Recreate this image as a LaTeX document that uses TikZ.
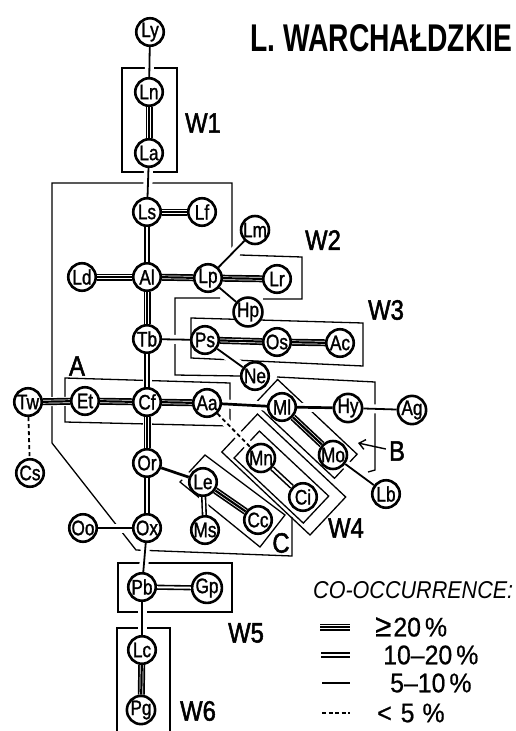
\documentclass[tikz,border=0pt]{standalone}
\usepackage{fontspec}
\setmainfont{Liberation Sans}
\newfontfamily\lab{Liberation Sans}[FakeStretch=0.82,FakeBold=1.2]
\newfontfamily\wlab{Liberation Sans}[FakeStretch=0.85,FakeBold=1.8]
\newfontfamily\legf{Liberation Sans}[FakeStretch=0.92,FakeBold=0.6]
\usetikzlibrary{arrows.meta}
\pgfdeclarelayer{boxes}
\pgfdeclarelayer{halo}
\pgfsetlayers{boxes,halo,main}
\tikzset{
 nd/.style={circle,draw,line width=2.6pt,fill=white,minimum size=27.5pt,inner sep=0pt,font=\lab\fontsize{21}{21}\selectfont},
 bx/.style={line width=1.3pt,line join=miter},
 eone/.style={line width=1.8pt},
 eheavy/.style={line width=2.7pt},
 etwo/.style={double,double distance=2pt,line width=1.6pt},
 ethree/.style={line width=7pt,postaction={draw=white,line width=3.6pt},postaction={draw=black,line width=2.2pt}},
 edash/.style={line width=1.8pt,dash pattern=on 4pt off 3pt},
 halo/.style={draw=white,line width=9pt},
 wl/.style={font=\wlab\fontsize{28}{28}\selectfont,inner sep=0pt},
 legt/.style={font=\legf\fontsize{27}{27}\selectfont,inner sep=0pt,anchor=west},
}
\begin{document}
\begin{tikzpicture}[x=1pt,y=-1pt]
\useasboundingbox (0,0) rectangle (516,731);
% nodes
\node[nd] (Ly) at (150,32) {Ly};
\node[nd] (Ln) at (149,92) {Ln};
\node[nd] (La) at (149,153) {La};
\node[nd] (Ls) at (147,212) {Ls};
\node[nd] (Lf) at (202,212) {Lf};
\node[nd] (Lm) at (255,230) {Lm};
\node[nd] (Ld) at (82,277) {Ld};
\node[nd] (Al) at (147,277) {Al};
\node[nd] (Lp) at (208,278) {Lp};
\node[nd] (Lr) at (277,279) {Lr};
\node[nd] (Hp) at (248,312) {Hp};
\node[nd] (Tb) at (147,339) {Tb};
\node[nd] (Ps) at (205,340) {Ps};
\node[nd] (Os) at (277,342) {Os};
\node[nd] (Ac) at (340,343) {Ac};
\node[nd] (Ne) at (255,376) {Ne};
\node[nd] (Tw) at (28,402) {Tw};
\node[nd] (Et) at (85,401) {Et};
\node[nd] (Cf) at (147,402) {Cf};
\node[nd] (Aa) at (207,403) {Aa};
\node[nd] (Ml) at (282,407) {Ml};
\node[nd] (Hy) at (348,408) {Hy};
\node[nd] (Ag) at (412,410) {Ag};
\node[nd] (Mo) at (333,455) {Mo};
\node[nd] (Mn) at (261,458) {Mn};
\node[nd] (Ci) at (303,497) {Ci};
\node[nd] (Lb) at (386,494) {Lb};
\node[nd] (Cs) at (30,473) {Cs};
\node[nd] (Or) at (147,463) {Or};
\node[nd] (Le) at (203,482) {Le};
\node[nd] (Ms) at (205,530) {Ms};
\node[nd] (Cc) at (258,520) {Cc};
\node[nd] (Oo) at (83,528) {Oo};
\node[nd] (Ox) at (147,528) {Ox};
\node[nd] (Pb) at (142,587) {Pb};
\node[nd] (Gp) at (207,588) {Gp};
\node[nd] (Lc) at (142,650) {Lc};
\node[nd] (Pg) at (141,710) {Pg};
% group boxes
\begin{pgfonlayer}{boxes}
\draw[bx] (122,68) rectangle (177,172);
\draw[bx] (232,250) -- (232,183) -- (52,183) -- (52,443) -- (136,550) -- (292,556) -- (292,517);
\draw[bx] (240,255) -- (302,257) -- (302,299) -- (263,299);
\draw[bx] (220,298) -- (175,298) -- (175,375) -- (240,376);
\draw[bx] (277,377) -- (375,382) -- (375,470) -- (368,472);
\draw[bx] (191,318) -- (363,323) -- (363,366) -- (191,358) -- cycle;
\draw[bx] (65,378) -- (230,383) -- (230,426) -- (65,422) -- cycle;
\draw[bx] (277.6,379.5) -- (357.1,454.2) -- (334.5,478.3) -- (255,403.6) -- cycle;
\draw[bx] (259.4,431.1) -- (328.7,496.1) -- (303.3,523.1) -- (234.1,458) -- cycle;
\draw[bx] (257.5,414.1) -- (345.7,497) -- (310,535) -- (221.8,452) -- cycle;
\draw[bx] (205,455) -- (285,515) -- (260,547) -- (180,482) -- cycle;
\draw[bx] (118,563) rectangle (232,612);
\draw[bx] (117,735) -- (117,628) -- (170,628) -- (170,735);
\end{pgfonlayer}
% halos
\begin{pgfonlayer}{halo}
\foreach \a/\b in {Ly/Ln,Ln/La,La/Ls,Ls/Lf,Ls/Al,Ld/Al,Al/Lp,Lp/Lr,Lp/Lm,Lp/Hp,Al/Tb,Tb/Ps,Ps/Os,Os/Ac,Ps/Ne,Tb/Cf,Tw/Et,Et/Cf,Cf/Aa,Aa/Ml,Ml/Hy,Hy/Ag,Ml/Mo,Mo/Lb,Aa/Mn,Mn/Ci,Tw/Cs,Cf/Or,Or/Le,Le/Cc,Le/Ms,Or/Ox,Oo/Ox,Ox/Pb,Pb/Gp,Pb/Lc,Lc/Pg}
  \draw[halo] (\a) -- (\b);
\end{pgfonlayer}
% connectors
\foreach \a/\b in {Ln/La,Ls/Lf,Ld/Al,Al/Lp,Lp/Lr,Al/Tb,Ps/Os,Os/Ac,Tw/Et,Et/Cf,Cf/Aa,Cf/Or,Ml/Mo,Le/Cc,Lc/Pg}
  \draw[ethree] (\a) -- (\b);
\foreach \a/\b in {Ls/Al,Tb/Cf,Or/Ox,Le/Ms,Mn/Ci,Pb/Gp}
  \draw[etwo] (\a) -- (\b);
\foreach \a/\b in {Ly/Ln,La/Ls,Lp/Lm,Lp/Hp,Tb/Ps,Ps/Ne,Hy/Ag,Mo/Lb,Oo/Ox,Ox/Pb,Pb/Lc}
  \draw[eone] (\a) -- (\b);
\foreach \a/\b in {Aa/Ml,Ml/Hy,Or/Le}
  \draw[eheavy] (\a) -- (\b);
\foreach \a/\b in {Tw/Cs,Aa/Mn}
  \draw[edash] (\a) -- (\b);
% labels
\node[anchor=west,inner sep=0pt] (title) at (250,38) {\resizebox{262pt}{27pt}{\bfseries L. WARCHAŁDZKIE}};
\node[wl] (w1) at (203,123) {W1};
\node[wl] (w2) at (323,240) {W2};
\node[wl] (w3) at (386,310) {W3};
\node[wl] (w4) at (346,528) {W4};
\node[wl] (w5) at (246,633) {W5};
\node[wl] (w6) at (198,711) {W6};
\node[wl] (la) at (77,366) {A};
\node[wl] (lbb) at (397,451) {B};
\node[wl] (lcc) at (281,543) {C};
\coordinate (barr) at (358,443);
\draw[line width=1.4pt,-{Straight Barb[length=6pt,width=10pt]}] (lbb.west) ++(-3,-2) -- (barr);
% legend
\node[anchor=west,inner sep=0pt] (leg) at (313,590) {\resizebox{200pt}{17pt}{\itshape CO-OCCURRENCE:}};
\coordinate (a3) at (320,627); \coordinate (b3) at (350,627);
\coordinate (a2) at (321,655); \coordinate (b2) at (350,655);
\coordinate (a1) at (322,683); \coordinate (b1) at (350,683);
\coordinate (a0) at (322,713); \coordinate (b0) at (350,713);
\draw[ethree] (a3) -- (b3);
\draw[etwo] (a2) -- (b2);
\draw[eone] (a1) -- (b1);
\draw[eone,dash pattern=on 4pt off 2.5pt] (a0) -- (b0);
\node[legt] (t3) at (375,627) {{\fontsize{32}{32}\selectfont ≥}\hspace{2pt}20\hspace{4pt}\%};
\node[legt] (t2) at (383,655) {10–20\hspace{4pt}\%};
\node[legt] (t1) at (390,683) {5–10\hspace{4pt}\%};
\node[legt] (t0) at (377,713) {<\hspace{9pt}5\hspace{8pt}\%};
\end{tikzpicture}
\end{document}
